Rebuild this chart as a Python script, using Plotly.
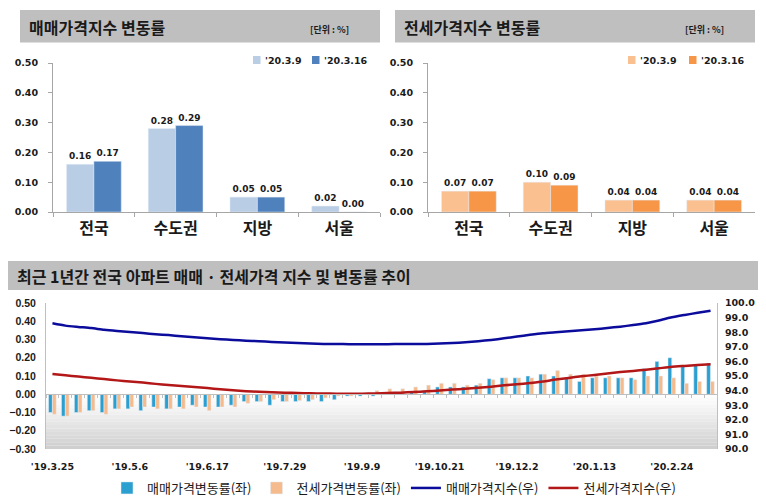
import plotly.graph_objects as go
import pandas as pd

# ---------------- data ----------------
regions = ["전국", "수도권", "지방", "서울"]
sale_0309 = [0.16, 0.28, 0.05, 0.02]
sale_0316 = [0.17, 0.29, 0.05, 0.00]
jeonse_0309 = [0.07, 0.10, 0.04, 0.04]
jeonse_0316 = [0.07, 0.09, 0.04, 0.04]
period_names = ["'20.3.9", "'20.3.16"]

weeks = ["'" + d.strftime("%y") + f".{d.month}.{d.day}"
         for d in pd.date_range("2019-03-25", periods=52, freq="7D")]
tick_labels = ["'19.3.25", "'19.5.6", "'19.6.17", "'19.7.29", "'19.9.9",
               "'19.10.21", "'19.12.2", "'20.1.13", "'20.2.24"]

sale_rate = [-0.10, -0.12, -0.10, -0.09, -0.10, -0.08, -0.08, -0.09, -0.07, -0.08,
             -0.07, -0.06, -0.07, -0.07, -0.06, -0.04, -0.04, -0.06, -0.04, -0.04,
             -0.04, -0.04, -0.03, -0.01, -0.01, -0.01, 0.00, 0.01, 0.01, 0.02,
             0.04, 0.04, 0.04, 0.05, 0.085, 0.09, 0.09, 0.10, 0.11, 0.10,
             0.09, 0.07, 0.09, 0.09, 0.09, 0.09, 0.14, 0.18, 0.20, 0.16,
             0.16, 0.17]
jeonse_rate = [-0.11, -0.12, -0.10, -0.09, -0.11, -0.08, -0.07, -0.07, -0.08, -0.08,
               -0.08, -0.07, -0.09, -0.07, -0.07, -0.05, -0.04, -0.03, -0.04, -0.035,
               -0.03, -0.02, -0.01, -0.01, 0.00, 0.02, 0.03, 0.03, 0.04, 0.05,
               0.06, 0.06, 0.05, 0.06, 0.08, 0.09, 0.09, 0.09, 0.11, 0.13,
               0.11, 0.11, 0.10, 0.10, 0.09, 0.08, 0.10, 0.10, 0.09, 0.06,
               0.07, 0.07]
sale_index = [98.61, 98.45, 98.36, 98.28, 98.16, 98.08, 98.02, 97.94, 97.86, 97.80,
              97.72, 97.66, 97.59, 97.52, 97.47, 97.42, 97.38, 97.33, 97.29, 97.26,
              97.23, 97.20, 97.19, 97.18, 97.18, 97.18, 97.18, 97.19, 97.19, 97.20,
              97.22, 97.26, 97.31, 97.38, 97.47, 97.58, 97.70, 97.82, 97.93, 98.00,
              98.07, 98.13, 98.20, 98.29, 98.38, 98.49, 98.62, 98.80, 99.02, 99.18,
              99.33, 99.47]
jeonse_index = [95.14, 95.05, 94.96, 94.88, 94.79, 94.70, 94.63, 94.55, 94.46, 94.39,
                94.31, 94.24, 94.17, 94.09, 94.02, 93.96, 93.92, 93.89, 93.86, 93.83,
                93.81, 93.80, 93.79, 93.79, 93.79, 93.80, 93.83, 93.86, 93.90, 93.95,
                94.01, 94.07, 94.13, 94.20, 94.27, 94.36, 94.43, 94.52, 94.62, 94.76,
                94.87, 94.98, 95.07, 95.17, 95.27, 95.35, 95.43, 95.53, 95.63, 95.69,
                95.75, 95.80]

# ---------------- styling ----------------
NUM = "DejaVu Sans, Noto Sans CJK KR"
NUM2 = "Liberation Sans, Arial, sans-serif"
KR = "Noto Sans CJK KR"
TXT = "#1a1a1a"
AX = "#a6a6a6"
OFF = 8                      # page offset of the plot div
W, H = 766 - OFF, 503 - OFF

def px(x):
    return (x - OFF) / W

def py(y):
    return 1 - (y - OFF) / H

C_TL = ["#b9cde5", "#4f81bd"]
C_TR = ["#fac090", "#f79646"]

fig = go.Figure()
lab_font = dict(family=NUM, size=9, color=TXT, weight="bold")

def top_bars(vals, name, color, off, xa, ya):
    fig.add_trace(go.Bar(x=regions, y=vals, name=name, marker_color=color,
                         width=0.335, offset=off, xaxis=xa, yaxis=ya, showlegend=False,
                         text=[f"{v:.2f}" for v in vals], textposition="outside",
                         cliponaxis=False, textfont=lab_font))

top_bars(sale_0309, period_names[0], C_TL[0], -0.335, "x", "y")
top_bars(sale_0316, period_names[1], C_TL[1], 0, "x", "y")
top_bars(jeonse_0309, period_names[0], C_TR[0], -0.335, "x2", "y2")
top_bars(jeonse_0316, period_names[1], C_TR[1], 0, "x2", "y2")

# bottom bars
fig.add_trace(go.Bar(x=weeks, y=sale_rate, name="매매가격변동률(좌)", marker_color="#2a9fd0",
                     width=0.29, offset=-0.3, xaxis="x3", yaxis="y3", legend="legend3"))
fig.add_trace(go.Bar(x=weeks, y=jeonse_rate, name="전세가격변동률(좌)", marker_color="#f5bb8c",
                     width=0.29, offset=0, xaxis="x3", yaxis="y3", legend="legend3"))
# zero-line ticks helper (invisible)
fig.add_trace(go.Scatter(x=[0], y=[0], mode="markers", marker=dict(opacity=0),
                         xaxis="x4", yaxis="y3", showlegend=False, hoverinfo="skip"))
# bottom lines
fig.add_trace(go.Scatter(x=weeks, y=sale_index, name="매매가격지수(우)", mode="lines",
                         line=dict(color="#0c0c9c", width=2.5, shape="spline", smoothing=0.6),
                         xaxis="x3", yaxis="y4", legend="legend3"))
fig.add_trace(go.Scatter(x=weeks, y=jeonse_index, name="전세가격지수(우)", mode="lines",
                         line=dict(color="#b31717", width=2.5, shape="spline", smoothing=0.6),
                         xaxis="x3", yaxis="y4", legend="legend3"))

top_y = [py(212), py(63)]
bot_y = [py(449), py(303)]
bot_x = [px(46), px(717)]

num_tick = dict(family=NUM, size=9.5, color=TXT, weight="bold")
cat_tick = dict(family=KR, size=16, color=TXT, weight="bold")

def top_x(dom):
    return dict(domain=dom, showline=True, linecolor=AX, linewidth=1, ticks="outside",
                tickson="boundaries", ticklen=4, tickcolor=AX, tickfont=cat_tick,
                ticklabelstandoff=2, showgrid=False, fixedrange=True, automargin=False)

def top_y_ax(anchor):
    return dict(domain=top_y, anchor=anchor, range=[0, 0.5], dtick=0.1, tickformat=".2f",
                showline=True, linecolor=AX, linewidth=1, ticks="outside", ticklen=4,
                tickcolor=AX, tickfont=num_tick, showgrid=False, zeroline=False,
                ticklabelstandoff=8, automargin=False)

# gradient bands in the lower chart
shapes = []
n_b = 16
for i in range(n_b):
    t0 = i / n_b
    t1 = (i + 1) / n_b
    g = int(round(255 - 50 * (((t0 + t1) / 2) ** 1.1)))
    shapes.append(dict(type="rect", xref="x3 domain", yref="y3", x0=0, x1=1,
                       y0=-0.3 * t0, y1=-0.3 * t1, fillcolor=f"rgb({g},{g},{g})",
                       line=dict(width=0), layer="below"))
# header bars
for (x0, x1, y0, y1) in [(20, 380, 10, 42.5), (395, 755, 10, 42.5), (8, 758, 261, 290)]:
    shapes.append(dict(type="rect", xref="paper", yref="paper", x0=px(x0), x1=px(x1),
                       y0=py(y1), y1=py(y0), fillcolor="#bfbfbf", line=dict(width=0),
                       layer="below"))

annotations = [
    dict(text="매매가격지수 변동률", x=px(27), y=py(27), xref="paper", yref="paper",
         xanchor="left", yanchor="middle", showarrow=False,
         font=dict(family=KR, size=16, color=TXT, weight="bold")),
    dict(text="전세가격지수 변동률", x=px(402), y=py(27), xref="paper", yref="paper",
         xanchor="left", yanchor="middle", showarrow=False,
         font=dict(family=KR, size=16, color=TXT, weight="bold")),
    dict(text="[단위 : %]", x=px(329), y=py(29), xref="paper", yref="paper",
         xanchor="center", yanchor="middle", showarrow=False,
         font=dict(family=KR, size=9, color=TXT, weight="bold")),
    dict(text="[단위 : %]", x=px(704), y=py(29), xref="paper", yref="paper",
         xanchor="center", yanchor="middle", showarrow=False,
         font=dict(family=KR, size=9, color=TXT, weight="bold")),
    dict(text="최근 1년간 전국 아파트 매매 · 전세가격 지수 및 변동률 추이", x=px(15), y=py(275.5),
         xref="paper", yref="paper", xanchor="left", yanchor="middle", showarrow=False,
         font=dict(family=KR, size=16, color=TXT, weight="bold")),
]

# compact legends for the two top panels (swatch + label)
for colors, sw_x in [(C_TL, [253, 312]), (C_TR, [628, 689])]:
    for k in range(2):
        shapes.append(dict(type="rect", xref="paper", yref="paper",
                           x0=px(sw_x[k]), x1=px(sw_x[k] + 7.5), y0=py(64), y1=py(56),
                           fillcolor=colors[k], line=dict(width=0)))
        annotations.append(dict(text=period_names[k], x=px(sw_x[k] + 9.5), y=py(60),
                                xref="paper", yref="paper", xanchor="left",
                                yanchor="middle", showarrow=False,
                                font=dict(family=NUM, size=9.5, color=TXT, weight="bold")))

zero_pos = bot_y[0] + (0 - (-0.3)) / 0.8 * (bot_y[1] - bot_y[0])

fig.update_layout(
    width=W, height=H, margin=dict(l=0, r=0, t=0, b=0),
    paper_bgcolor="white", plot_bgcolor="rgba(0,0,0,0)",
    barmode="overlay",
    font=dict(family=KR, color=TXT),
    xaxis=dict(**top_x([px(53), px(380)]), anchor="y"),
    yaxis=top_y_ax("x"),
    xaxis2=dict(**top_x([px(428), px(755)]), anchor="y2"),
    yaxis2=top_y_ax("x2"),
    xaxis3=dict(domain=bot_x, anchor="y3", range=[-0.5, 51.5], tickmode="array",
                tickvals=tick_labels, ticktext=tick_labels, showline=False, ticks="",
                tickfont=dict(family=NUM, size=9.5, color=TXT, weight="bold"),
                ticklabelstandoff=10, showgrid=False, fixedrange=True, automargin=False),
    xaxis4=dict(overlaying="x3", anchor="free", position=zero_pos, type="linear",
                range=[-0.5, 51.5], tickmode="linear", tick0=-0.5, dtick=1,
                showline=True, linecolor="#bfbfbf", linewidth=1, ticks="outside",
                ticklen=3, tickcolor="#bfbfbf", showticklabels=False, showgrid=False,
                zeroline=False, automargin=False),
    yaxis3=dict(domain=bot_y, anchor="x3", range=[-0.3, 0.5], dtick=0.1, tickformat=".2f",
                showline=True, linecolor="#bfbfbf", ticks="",
                tickfont=dict(family=NUM2, size=10.5, color=TXT, weight="bold"),
                ticklabelstandoff=7, showgrid=False, zeroline=False, automargin=False),
    yaxis4=dict(overlaying="y3", anchor="x3", side="right", range=[90, 100], dtick=1,
                tickformat=".1f", showline=True, linecolor="#bfbfbf", ticks="",
                tickfont=num_tick, ticklabelstandoff=5, showgrid=False, zeroline=False,
                automargin=False),
    legend3=dict(orientation="h", x=px(394), y=py(488), xanchor="center", yanchor="middle",
                 font=dict(family=KR, size=13, color=TXT),
                 itemwidth=30, bgcolor="rgba(0,0,0,0)"),
    shapes=shapes,
    annotations=annotations,
    showlegend=True,
)

fig.write_html("out.html")
